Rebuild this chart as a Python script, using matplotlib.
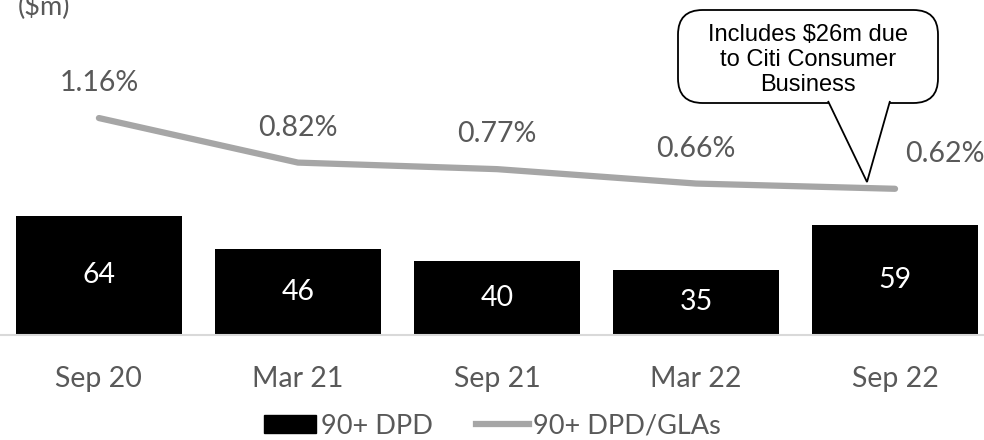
import matplotlib
matplotlib.use("Agg")
import matplotlib.pyplot as plt
from matplotlib.patches import FancyBboxPatch, Polygon, Patch
from matplotlib.lines import Line2D

# data
periods = ["Sep 20", "Mar 21", "Sep 21", "Mar 22", "Sep 22"]
dpd_90 = [64, 46, 40, 35, 59]
dpd_gla = [1.16, 0.82, 0.77, 0.66, 0.62]
dpd_gla_labels = ["1.16%", "0.82%", "0.77%", "0.66%", "0.62%"]

grey_txt = "#595959"
line_col = "#a6a6a6"
plt.rcParams['font.family'] = ['Lato', 'DejaVu Sans']
fs = 20.5

W, H = 984, 440
fig = plt.figure(figsize=(W / 100, H / 100), dpi=100)
ax = fig.add_axes([0, (H - 335) / H, 1, 335 / H])
x = list(range(len(periods)))

ax.bar(x, dpd_90, width=0.834, color="black", zorder=2)
for xi, v in zip(x, dpd_90):
    ax.text(xi, v / 2, str(v), color="white", ha="center", va="center", fontsize=fs)

ax.set_xlim(-0.497, 4.447)
ax.set_ylim(0, 180)
ax.set_xticks(x)
ax.set_xticklabels(periods, fontsize=fs, color=grey_txt)
ax.tick_params(axis="x", length=0, pad=22)
ax.set_yticks([])
for s in ["top", "right", "left"]:
    ax.spines[s].set_visible(False)
ax.spines["bottom"].set_color("#d9d9d9")
ax.spines["bottom"].set_linewidth(1.5)

ax2 = ax.twinx()
ax2.plot(x, dpd_gla, color=line_col, lw=4.5, solid_capstyle="round", zorder=3)
ax2.set_ylim(-0.496, 2.061)
ax2.axis("off")
for i, (xi, v, lab) in enumerate(zip(x, dpd_gla, dpd_gla_labels)):
    dx = 36 if i == len(x) - 1 else 0
    ax2.annotate(lab, (xi, v), xytext=(dx, 25), textcoords="offset points",
                 ha="center", va="center", fontsize=fs, color=grey_txt)

fig.text(18 / W, 1 - 15 / H, "($m)", fontsize=19.5, color=grey_txt,
         ha="left", va="baseline")

# callout box
def px(xp, yp):
    return (xp / W, 1 - yp / H)

bx0, by0 = px(678, 103)
bx1, by1 = px(938, 10)
box = FancyBboxPatch((bx0, by0), bx1 - bx0, by1 - by0,
                     boxstyle="round,pad=0,rounding_size=0.025",
                     transform=fig.transFigure, fc="white", ec="black", lw=1.3,
                     mutation_aspect=W / H)
fig.patches.append(box)
tail = Polygon([px(828, 101), px(867, 182), px(890, 101)], closed=False,
               transform=fig.transFigure, fc="white", ec="black", lw=1.3)
fig.patches.append(tail)
fig.text(808 / W, 1 - 60 / H, "Includes $26m due\nto Citi Consumer\nBusiness",
         ha="center", va="center", fontsize=17, family="Liberation Sans",
         linespacing=1.2, color="black")

handles = [Patch(color="black"), Line2D([0], [0], color=line_col, lw=4.5)]
fig.legend(handles, ["90+ DPD", "90+ DPD/GLAs"], loc="center",
           bbox_to_anchor=(0.5, 14 / H), ncol=2, frameon=False, fontsize=19.5,
           labelcolor=grey_txt, handlelength=1.95, handleheight=0.6,
           handletextpad=0.15, columnspacing=1.6)

fig.savefig("out.png", dpi=100)
